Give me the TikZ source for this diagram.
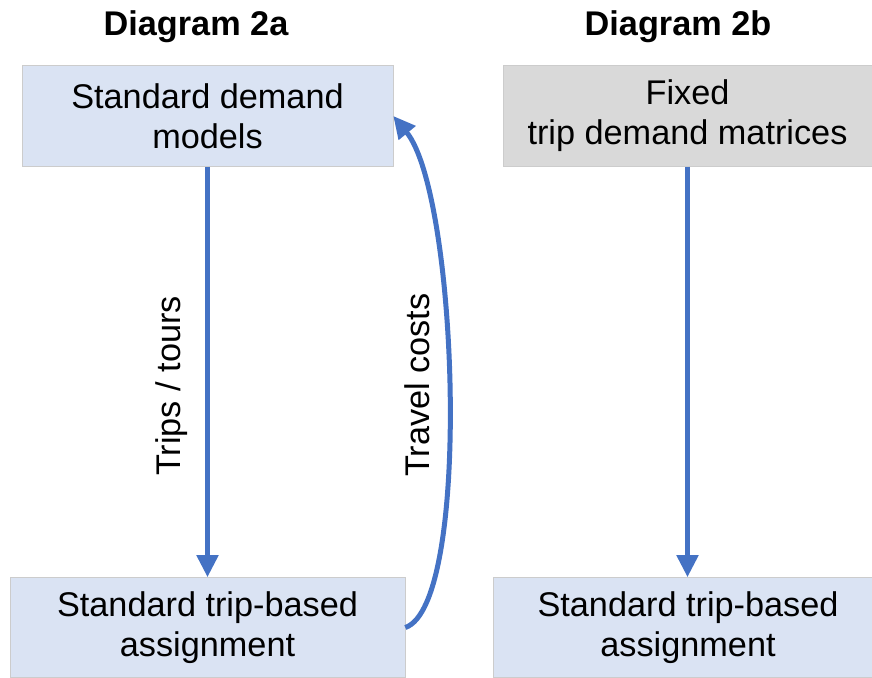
\documentclass[tikz,border=0pt]{standalone}
\usepackage{fontspec}
\setmainfont{Liberation Sans}
\usetikzlibrary{arrows.meta,positioning}

\definecolor{boxblue}{HTML}{DAE3F3}
\definecolor{boxgray}{HTML}{D9D9D9}
\definecolor{flowblue}{HTML}{4472C4}

\begin{document}
\begin{tikzpicture}[x=0.02cm,y=-0.02cm,
	box/.style={draw=gray!40, line width=0.4pt, fill=boxblue, align=center, inner sep=0pt,
		font=\fontsize{19.5}{22.8}\selectfont},
	flow/.style={draw=flowblue, line width=0.1cm, -{Triangle[length=0.44cm,width=0.42cm]}},
	heading/.style={anchor=base, font=\fontsize{19.5}{23}\selectfont\bfseries},
	flowlabel/.style={rotate=90, font=\fontsize{19.5}{23}\selectfont}]
	\useasboundingbox (0,0) rectangle (872,677);
	% titles
	\node[heading] (ta) at (196,35) {Diagram 2a};
	\node[heading] (tb) at (678,35) {Diagram 2b};
	% left side
	\node[box, minimum width=7.42cm, minimum height=2.02cm] (dem) at (207.5,116) {Standard demand\\models};
	\node[box, minimum width=7.9cm, minimum height=2.0cm] (asgA) at (207.5,627.5) {Standard trip-based\\assignment};
	\draw[flow] (dem.south) -- (asgA.north);
	\draw[flow] (asgA.east) .. controls (472,605) and (458,195) .. (dem.east);
	\node[flowlabel] (trips) at (172,386) {Trips / tours};
	\node[flowlabel] (costs) at (417,385) {Travel costs};
	% right side
	\node[box, fill=boxgray, minimum width=7.38cm, minimum height=2.02cm] (fix) at (687.5,116) {Fixed\\trip demand matrices};
	\node[box, minimum width=7.8cm, minimum height=2.0cm] (asgB) at (688,627.5) {Standard trip-based\\assignment};
	\draw[flow] (fix.south) -- (asgB.north -| fix.south);
\end{tikzpicture}
\end{document}
